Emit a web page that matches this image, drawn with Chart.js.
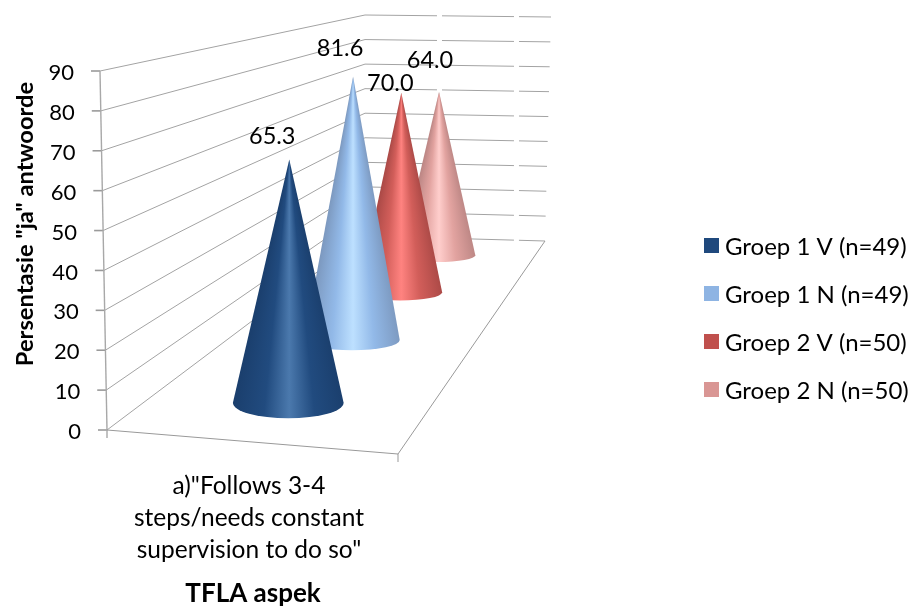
<!DOCTYPE html>
<html>
<head>
<meta charset="utf-8">
<title>TFLA aspek</title>
<script src="https://cdn.jsdelivr.net/npm/chart.js@4"></script>
<style>
    html, body { margin: 0; padding: 0; background: #fff; }
    canvas { display: block; }
</style>
</head>
<body>
<canvas id="coneChart" width="914" height="608"></canvas>
<script>
const categories = [['a)"Follows 3-4', 'steps/needs constant', 'supervision to do so"']];
const seriesNames = ['Groep 1 V (n=49)', 'Groep 1 N (n=49)', 'Groep 2 V (n=50)', 'Groep 2 N (n=50)'];
const groep1V = [65.3];
const groep1N = [81.6];
const groep2V = [70.0];
const groep2N = [64.0];
const yTicks = [0, 10, 20, 30, 40, 50, 60, 70, 80, 90];
const xTitle = 'TFLA aspek';
const yTitle = 'Persentasie "ja" antwoorde';

// legend colours and the edge/mid/highlight shades of each cone
const legendColors = ['#1f497d', '#8eb4e3', '#c0504d', '#d99694'];
const coneShades = [
    ['#1a3e6c', '#214b7f', '#4b79ad'],
    ['#7b97bd', '#92b9e8', '#bde0ff'],
    ['#a84845', '#d25e5a', '#ff8380'],
    ['#b98482', '#e2a3a0', '#ffcecc']
];
// where each value label sits relative to its cone tip
const labelOffsets = [[-17, -23], [-13, -28], [-11, -9], [-9, -31]];

const FONT = 'Lato, Carlito, sans-serif';
const GRID = '#a3a3a3';

// floor corners of the 3D box
const floor = { fl: [107, 430], fr: [398, 454], br: [545, 241], bl: [365, 236] };
// same corners on the wall top
const wallTop = { fl: [100, 71], bl: [365, 15], br: [551, 17] };

// unit square to floor quad
const persp = (function () {
    const { fl, fr, br, bl } = floor;
    const dx1 = fr[0] - br[0], dx2 = bl[0] - br[0], sx = fl[0] - fr[0] + br[0] - bl[0];
    const dy1 = fr[1] - br[1], dy2 = bl[1] - br[1], sy = fl[1] - fr[1] + br[1] - bl[1];
    const den = dx1 * dy2 - dx2 * dy1;
    const g = (sx * dy2 - dx2 * sy) / den;
    const h = (dx1 * sy - sx * dy1) / den;
    return {
        g, h,
        a: fr[0] - fl[0] + g * fr[0], b: bl[0] - fl[0] + h * bl[0], c: fl[0],
        d: fr[1] - fl[1] + g * fr[1], e: bl[1] - fl[1] + h * bl[1], f: fl[1]
    };
})();

function floorPoint(u, v) {
    const w = 1 + persp.g * u + persp.h * v;
    return {
        x: (persp.a * u + persp.b * v + persp.c) / w,
        y: (persp.d * u + persp.e * v + persp.f) / w,
        w: w
    };
}

function lerp(p, q, t) {
    return [p[0] + (q[0] - p[0]) * t, p[1] + (q[1] - p[1]) * t];
}

function line(ctx, p, q) {
    ctx.beginPath();
    ctx.moveTo(p[0], p[1]);
    ctx.lineTo(q[0], q[1]);
    ctx.stroke();
}

function drawBox(ctx, yScale) {
    const span = yScale.bottom - yScale.top;
    ctx.save();
    ctx.lineWidth = 1;
    ctx.strokeStyle = GRID;
    yScale.ticks.forEach(tick => {
        const t = (yScale.bottom - yScale.getPixelForValue(tick.value)) / span;
        const front = lerp(floor.fl, wallTop.fl, t);
        const backL = lerp(floor.bl, wallTop.bl, t);
        const backR = lerp(floor.br, wallTop.br, t);
        ctx.setLineDash([]);
        line(ctx, front, backL);
        ctx.setLineDash([72, 5]);
        line(ctx, backL, backR);

        // tick mark and its label
        ctx.setLineDash([]);
        ctx.save();
        ctx.lineWidth = 1.6;
        ctx.strokeStyle = '#9a9a9a';
        line(ctx, [front[0] - 9, front[1]], front);
        ctx.restore();
        ctx.fillStyle = '#000';
        ctx.font = '22px ' + FONT;
        ctx.textAlign = 'right';
        ctx.textBaseline = 'middle';
        ctx.fillText(tick.label, front[0] - 26, front[1] + 2);
    });

    // front edges
    ctx.strokeStyle = '#a8a8a8';
    ctx.lineWidth = 1.4;
    line(ctx, floor.fl, wallTop.fl);
    line(ctx, floor.fl, [floor.fl[0], floor.fl[1] + 8]);
    ctx.lineWidth = 1;
    ctx.strokeStyle = '#999';
    line(ctx, floor.fl, floor.fr);
    line(ctx, floor.fr, floor.br);
    line(ctx, floor.fr, [floor.fr[0], floor.fr[1] + 8]);
    ctx.restore();
}

function drawCone(ctx, yScale, value, index, count) {
    const v = (index + 0.5) / count;
    const base = floorPoint(0.5, v);
    // heights shrink with depth along the wall
    const heightPx = (yScale.bottom - yScale.getPixelForValue(value)) * 1.008 / (1 + 0.667 * v);
    const rx = 58 / base.w;
    const ry = rx * (0.185 + 0.14 * Math.pow(1 - v, 3));
    const cx = base.x + 1;
    const cy = base.y + 1;
    const tipX = cx + 1;
    const tipY = base.y - heightPx;

    // shade along rays from the tip so the highlight narrows towards it
    const grad = ctx.createConicGradient(0, tipX, tipY);
    const shade = coneShades[index];
    const stops = [[1, shade[0]], [0.42, shade[1]], [0, shade[2]], [-0.42, shade[1]], [-1, shade[0]]];
    stops.forEach(s => {
        const angle = Math.PI / 2 - Math.atan(s[0] * rx * 1.04 / heightPx);
        grad.addColorStop(angle / (2 * Math.PI), s[1]);
    });

    ctx.save();
    ctx.fillStyle = grad;
    ctx.beginPath();
    ctx.moveTo(tipX, tipY);
    ctx.lineTo(cx + rx, cy);
    ctx.ellipse(cx, cy, rx, ry, 0, 0, Math.PI);
    ctx.closePath();
    ctx.fill();
    ctx.restore();

    return { x: tipX, y: tipY };
}

function drawLegend(ctx, datasets) {
    ctx.save();
    ctx.font = '24px ' + FONT;
    ctx.textAlign = 'left';
    ctx.textBaseline = 'middle';
    datasets.forEach((ds, i) => {
        const y = 246 + i * 48;
        ctx.fillStyle = legendColors[i];
        ctx.fillRect(704, y - 8, 15, 15);
        ctx.fillStyle = '#000';
        ctx.fillText(ds.label, 725, y + 1);
    });
    ctx.restore();
}

const conePlugin = {
    id: 'cones3d',
    // replaces the flat bars with the 3D box and cones
    beforeDatasetsDraw(chart) {
        const ctx = chart.ctx;
        const yScale = chart.scales.y;
        const datasets = chart.data.datasets;
        drawBox(ctx, yScale);

        const tips = [];
        for (let i = datasets.length - 1; i >= 0; i--) {
            tips[i] = drawCone(ctx, yScale, datasets[i].data[0], i, datasets.length);
        }

        // value labels go on last, they overlap the cones behind
        ctx.save();
        ctx.fillStyle = '#000';
        ctx.font = '23.5px ' + FONT;
        ctx.textAlign = 'center';
        ctx.textBaseline = 'middle';
        datasets.forEach((ds, i) => {
            ctx.fillText(ds.data[0].toFixed(1), tips[i].x + labelOffsets[i][0], tips[i].y + labelOffsets[i][1]);
        });

        // category label
        ctx.font = '24.5px ' + FONT;
        chart.data.labels[0].forEach((text, i) => {
            ctx.fillText(text, 249, 486 + i * 32);
        });

        // axis titles
        ctx.font = 'bold 26px ' + FONT;
        ctx.fillText(xTitle, 253, 594);
        ctx.font = 'bold 23.7px ' + FONT;
        ctx.translate(25, 224);
        ctx.rotate(-Math.PI / 2);
        ctx.fillText(yTitle, 0, 0);
        ctx.restore();

        drawLegend(ctx, datasets);
        return false;
    }
};

new Chart(document.getElementById('coneChart').getContext('2d'), {
    type: 'bar',
    data: {
        labels: categories,
        datasets: [
            { label: seriesNames[0], data: groep1V, backgroundColor: legendColors[0] },
            { label: seriesNames[1], data: groep1N, backgroundColor: legendColors[1] },
            { label: seriesNames[2], data: groep2V, backgroundColor: legendColors[2] },
            { label: seriesNames[3], data: groep2N, backgroundColor: legendColors[3] }
        ]
    },
    options: {
        responsive: false,
        animation: false,
        layout: { padding: { left: 100, right: 516, top: 71, bottom: 178 } },
        plugins: { legend: { display: false }, tooltip: { enabled: false } },
        scales: {
            x: { display: false },
            y: {
                display: false,
                min: yTicks[0],
                max: yTicks[yTicks.length - 1],
                afterBuildTicks(scale) {
                    scale.ticks = yTicks.map(value => ({ value: value, label: String(value) }));
                }
            }
        }
    },
    plugins: [conePlugin]
});
</script>
</body>
</html>
